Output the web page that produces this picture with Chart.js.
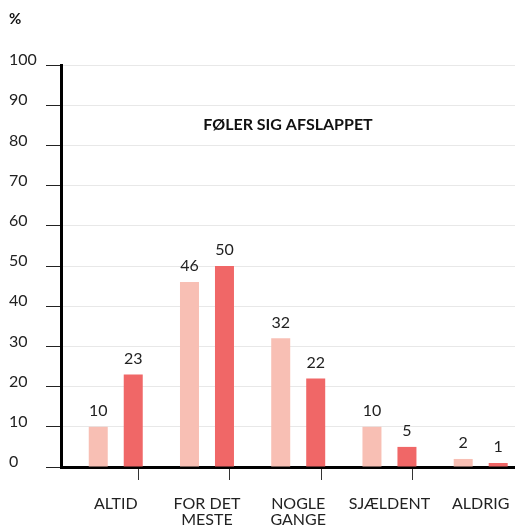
<!DOCTYPE html>
<html lang="da">
<head>
<meta charset="UTF-8">
<title>Føler sig afslappet</title>
<script src="https://cdn.jsdelivr.net/npm/chart.js@4/dist/chart.umd.min.js"></script>
<style>
  html, body { margin: 0; padding: 0; background: #fff; }
  canvas { display: block; }
</style>
</head>
<body>
<canvas id="chart" width="515" height="531"></canvas>
<script>
const categories = ['ALTID', ['FOR DET', 'MESTE'], ['NOGLE', 'GANGE'], 'SJÆLDENT', 'ALDRIG'];
const seriesA = [10, 46, 32, 10, 2];
const seriesB = [23, 50, 22, 5, 1];
const yTicks = [0, 10, 20, 30, 40, 50, 60, 70, 80, 90, 100];
const chartTitle = 'FØLER SIG AFSLAPPET';
const unitLabel = '%';

const FONT = 'Lato, "Open Sans", sans-serif';
const PINK = '#f8bfb4';
const RED = '#f06767';

// labels on whole positions, separator ticks between categories
const xTickValues = [];
categories.forEach((c, i) => {
  xTickValues.push(i);
  if (i < categories.length - 1) xTickValues.push(i + 0.5);
});

const overlay = {
  id: 'overlay',
  afterDatasetsDraw(chart) {
    const { ctx, chartArea, scales } = chart;
    ctx.save();
    ctx.fillStyle = '#222';
    ctx.font = '16px ' + FONT;
    ctx.textAlign = 'center';
    ctx.textBaseline = 'bottom';
    chart.data.datasets.forEach((ds, di) => {
      chart.getDatasetMeta(di).data.forEach((bar, i) => {
        ctx.fillText(String(ds.data[i].y), bar.x, bar.y - 8);
      });
    });
    ctx.fillStyle = '#111';
    ctx.font = 'bold 16px ' + FONT;
    ctx.textBaseline = 'middle';
    ctx.fillText(chartTitle, (chartArea.left + chartArea.right) / 2, scales.y.getPixelForValue(85));
    ctx.textAlign = 'left';
    ctx.font = 'bold 15px ' + FONT;
    ctx.fillText(unitLabel, 9, 19);
    ctx.restore();
  }
};

new Chart(document.getElementById('chart'), {
  type: 'bar',
  data: {
    datasets: [
      { label: 'A', data: seriesA.map((v, i) => ({ x: i, y: v })), backgroundColor: PINK },
      { label: 'B', data: seriesB.map((v, i) => ({ x: i, y: v })), backgroundColor: RED },
    ],
  },
  options: {
    responsive: false,
    animation: false,
    // half-step separator ticks halve the sample spacing, hence > 1
    categoryPercentage: 1.534,
    barPercentage: 0.543,
    layout: { padding: { left: 9, top: 65, right: 0, bottom: 0 } },
    plugins: { legend: { display: false }, tooltip: { enabled: false } },
    scales: {
      x: {
        type: 'linear',
        offset: false,
        min: -0.6,
        max: 4.376,
        afterBuildTicks: s => { s.ticks = xTickValues.map(v => ({ value: v })); },
        afterFit: s => { s.height = 64; s.paddingLeft = 0; s.paddingRight = 0; },
        border: { color: '#000', width: 3 },
        grid: {
          drawOnChartArea: false,
          tickLength: 13,
          tickColor: c => (c.tick && c.tick.value % 1 !== 0) ? '#333' : 'rgba(0,0,0,0)',
        },
        ticks: {
          autoSkip: false,
          maxRotation: 0,
          padding: 15,
          color: '#222',
          font: { family: FONT, size: 16, lineHeight: 1.05 },
          callback: v => (v % 1 === 0 ? categories[v] : ''),
        },
      },
      y: {
        min: 0,
        max: 100,
        afterBuildTicks: s => { s.ticks = yTicks.map(v => ({ value: v })); },
        afterFit: s => { s.width = 52; },
        border: { color: '#000', width: 3 },
        grid: { color: '#e8e8e8', tickColor: '#222', tickLength: 15 },
        ticks: {
          crossAlign: 'far',
          labelOffset: -5,
          color: '#222',
          font: { family: FONT, size: 16 },
        },
      },
    },
  },
  plugins: [overlay],
});
</script>
</body>
</html>
